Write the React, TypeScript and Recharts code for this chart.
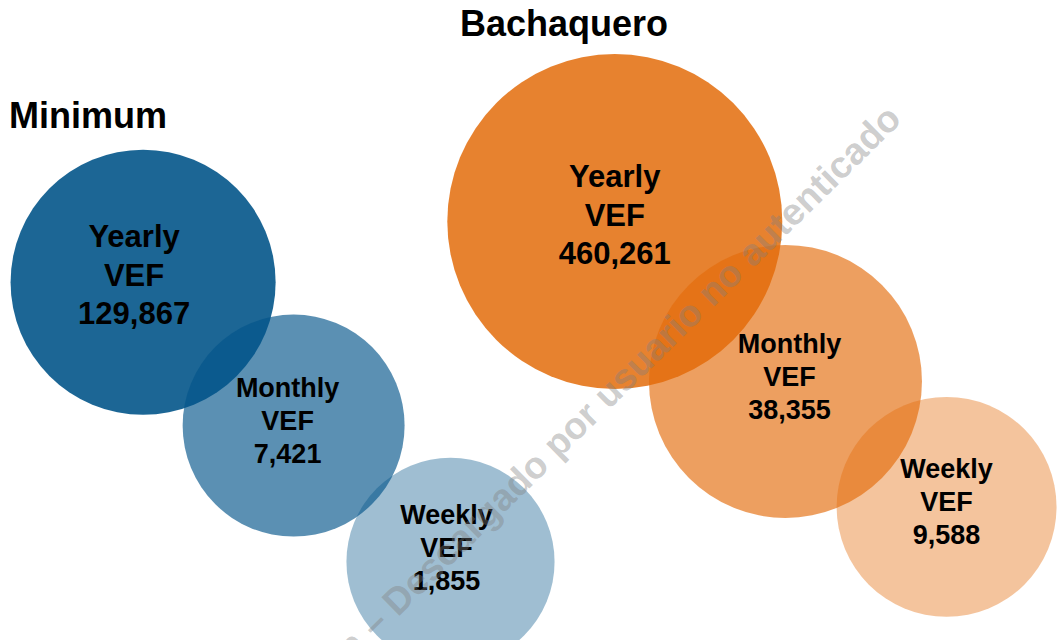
import { ScatterChart, Scatter, XAxis, YAxis, ZAxis } from 'recharts';

// bubble data (x/y in 0-100 plot units, z = relative bubble area)
const periods = ['Yearly', 'Monthly', 'Weekly'];

const minimumVef = [129867, 7421, 1855];
const minimumX = [13.5, 27.7, 42.5];
const minimumY = [55.9, 33.5, 12.2];
const minimumZ = [62.6, 43.9, 38.6];

const bachaqueroVef = [460261, 38355, 9588];
const bachaqueroX = [58.0, 74.1, 89.3];
const bachaqueroY = [65.4, 40.4, 20.8];
const bachaqueroZ = [100, 66.4, 43.1];

const W = 1060;
const H = 640;
const FONT = '"Liberation Sans", Arial, Helvetica, sans-serif';

const minimumData = periods.map((p, i) => ({
  group: 'Minimum', period: p, vef: minimumVef[i], x: minimumX[i], y: minimumY[i], z: minimumZ[i],
}));
const bachaqueroData = periods.map((p, i) => ({
  group: 'Bachaquero', period: p, vef: bachaqueroVef[i], x: bachaqueroX[i], y: bachaqueroY[i], z: bachaqueroZ[i],
}));

const opacity: Record<string, Record<string, number>> = {
  Minimum: { Yearly: 0.9, Monthly: 0.65, Weekly: 0.38 },
  Bachaquero: { Yearly: 0.85, Monthly: 0.65, Weekly: 0.4 },
};
const fontSize: Record<string, number> = { Yearly: 31, Monthly: 27, Weekly: 27 };
const lineGap: Record<string, number> = { Yearly: 38.5, Monthly: 33, Weekly: 33 };
// label nudges [dx, dy] where the text is not centred in its bubble
const labelShift: Record<string, [number, number]> = {
  'Minimum-Yearly': [-9, -1],
  'Minimum-Monthly': [-6, 0],
  'Minimum-Weekly': [-4, -9],
  'Bachaquero-Monthly': [4, 0],
};

function Bubble(props: any) {
  const { cx, cy, size, width, payload, fill } = props;
  const r = size ? Math.sqrt(size / Math.PI) : width / 2;
  const fs = fontSize[payload.period];
  const gap = lineGap[payload.period];
  const [dx, dy] = labelShift[`${payload.group}-${payload.period}`] || [0, 0];
  const tx = cx + dx;
  const mid = cy + 4.5 + dy;
  return (
    <g>
      <circle cx={cx} cy={cy} r={r} fill={fill} fillOpacity={opacity[payload.group][payload.period]} />
      <g fontFamily={FONT} fontWeight="bold" fontSize={fs} fill="#000" textAnchor="middle">
        <text x={tx} y={mid - gap}>{payload.period}</text>
        <text x={tx} y={mid}>VEF</text>
        <text x={tx} y={mid + gap}>{payload.vef.toLocaleString('en-US')}</text>
      </g>
    </g>
  );
}

export default function App() {
  return (
    <div style={{ position: 'relative', width: W, height: H, background: '#fff' }}>
      <style>{'body{margin:0}'}</style>
      <ScatterChart width={W} height={H} margin={{ top: 0, right: 0, bottom: 0, left: 0 }}>
        <XAxis type="number" dataKey="x" domain={[0, 100]} hide />
        <YAxis type="number" dataKey="y" domain={[0, 100]} hide />
        <ZAxis type="number" dataKey="z" domain={[0, 100]} range={[0, Math.PI * 167.5 * 167.5]} />
        <Scatter data={minimumData} fill="#03558a" shape={Bubble} isAnimationActive={false} />
        <Scatter data={bachaqueroData} fill="#e36c0a" shape={Bubble} isAnimationActive={false} />
      </ScatterChart>
      <svg
        width={W}
        height={H}
        style={{ position: 'absolute', left: 0, top: 0, pointerEvents: 'none' }}
      >
        <g fontFamily={FONT} fontWeight="bold" fontSize={36} fill="#000">
          <text x={9} y={128}>Minimum</text>
          <text x={564} y={36} textAnchor="middle">Bachaquero</text>
        </g>
        <text
          x={903}
          y={121}
          textAnchor="end"
          transform="rotate(-44.5 903 121)"
          fontFamily={FONT}
          fontWeight="bold"
          fontSize={37.5}
          fill="#7f7f7f"
          fillOpacity={0.4}
        >
          ión – Descargado por usuario no autenticado
        </text>
      </svg>
    </div>
  );
}
